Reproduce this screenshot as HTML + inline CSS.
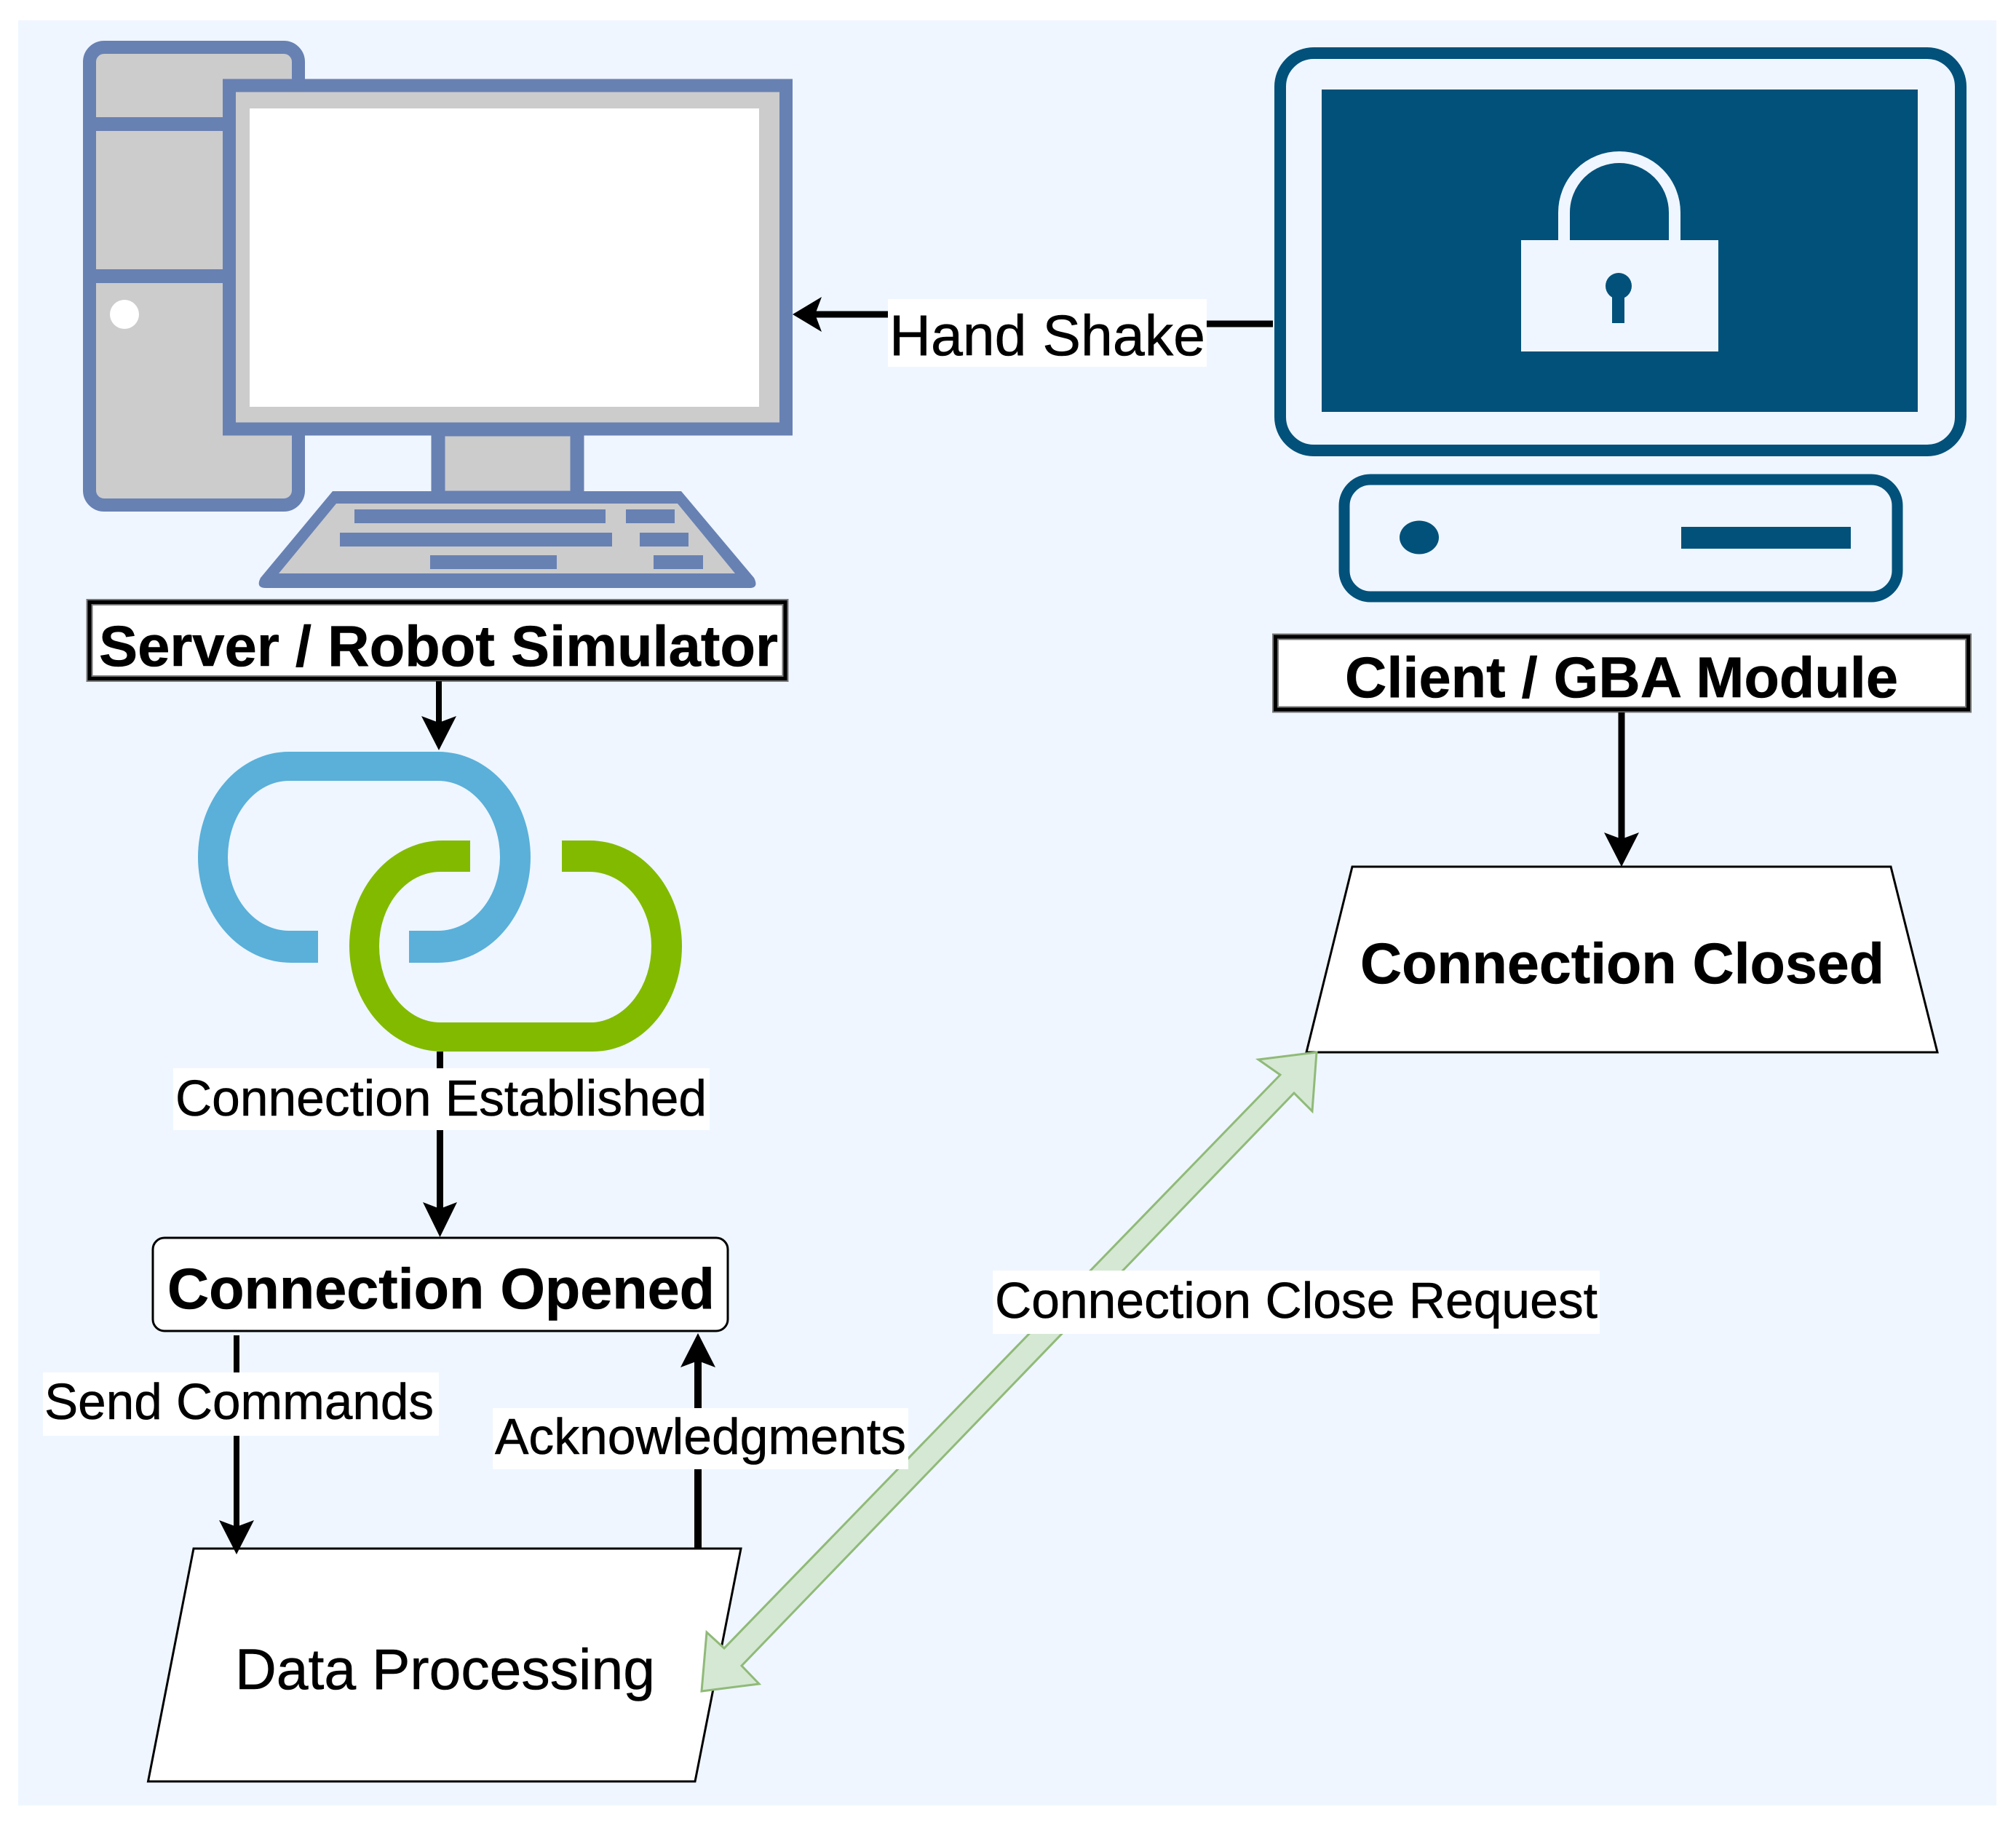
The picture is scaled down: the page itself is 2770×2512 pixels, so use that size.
<!DOCTYPE html>
<html>
<head>
<meta charset="utf-8">
<style>
html,body{margin:0;padding:0;background:#fff}
svg{display:block}
text{font-family:"Liberation Sans",sans-serif;fill:#000;stroke:#000;stroke-width:.6px}
.b{font-weight:bold;font-size:79px}
.r{font-size:70px}
.r2{font-size:79px}
</style>
</head>
<body>
<svg width="2770" height="2512" viewBox="0 0 2770 2512" xmlns="http://www.w3.org/2000/svg">
<rect width="2770" height="2512" fill="#fff"/>
<rect x="25" y="28" width="2718" height="2453" fill="#EFF6FF"/>

<!-- Server computer -->
<g fill="#CCCCCC" stroke="#6881B3">
<rect x="123" y="65" width="287" height="629" rx="20" stroke-width="18"/>
<rect x="602" y="590" width="191" height="94" stroke-width="19"/>
</g>
<path d="M457,675 L936,675 L1036,794 Q1043,808 1030,808 L365,808 Q351,808 358,794 Z" fill="#6881B3"/>
<polygon points="462,692 931,692 1010,788 383,788" fill="#CCCCCC"/>
<g fill="#6881B3">
<rect x="123" y="161" width="190" height="19"/>
<rect x="123" y="370" width="190" height="19"/>
<rect x="487" y="700" width="345" height="19"/>
<rect x="860" y="700" width="67" height="19"/>
<rect x="467" y="732" width="374" height="19"/>
<rect x="879" y="732" width="67" height="19"/>
<rect x="591" y="763" width="174" height="19"/>
<rect x="898" y="763" width="68" height="19"/>
</g>
<rect x="315" y="117.500" width="765" height="472" fill="#CCCCCC" stroke="#6881B3" stroke-width="18"/>
<rect x="343" y="149" width="700" height="410" fill="#fff"/>
<circle cx="171" cy="432" r="20" fill="#fff"/>

<!-- Client computer -->
<rect x="1759" y="73" width="935" height="546" rx="46" fill="none" stroke="#02517A" stroke-width="16"/>
<rect x="1816" y="123" width="819" height="443" fill="#02517A"/>
<path d="M2149,332 L2149,292 A76,76 0 0 1 2301,292 L2301,332" fill="none" stroke="#EFF6FF" stroke-width="16"/>
<rect x="2090" y="330" width="271" height="153" fill="#EFF6FF"/>
<circle cx="2224" cy="393" r="18" fill="#02517A"/>
<rect x="2215" y="393" width="17" height="51" fill="#02517A"/>
<rect x="1847" y="659" width="760" height="161" rx="36" fill="none" stroke="#02517A" stroke-width="15"/>
<ellipse cx="1950" cy="738.500" rx="27" ry="23" fill="#02517A"/>
<rect x="2310" y="724" width="233" height="30" fill="#02517A"/>

<!-- Title boxes -->
<rect x="123" y="827.500" width="956" height="105" fill="#fff" stroke="#777" stroke-width="9"/>
<rect x="123" y="827.500" width="956" height="105" fill="none" stroke="#000" stroke-width="5"/>
<text class="b" x="136" y="915" textLength="933" lengthAdjust="spacingAndGlyphs">Server / Robot Simulator</text>
<rect x="1752.500" y="875" width="952" height="100" fill="#fff" stroke="#777" stroke-width="9"/>
<rect x="1752.500" y="875" width="952" height="100" fill="none" stroke="#000" stroke-width="5"/>
<text class="b" x="1848" y="958" textLength="760" lengthAdjust="spacingAndGlyphs">Client / GBA Module</text>

<!-- Link icon -->
<path fill="#5AB0D9" d="M437,1323 L400,1323 A128,145 0 0 1 272,1178 A125,145 0 0 1 397,1033 L602,1033 A127,145 0 0 1 729,1178 A127,145 0 0 1 602,1323 L562,1323 L562,1279 L602,1279 A85,101 0 0 0 687,1178 A85,105 0 0 0 602,1073 L397,1073 A84,105 0 0 0 313,1178 A84,101 0 0 0 397,1279 L437,1279 Z"/>
<path fill="#82BA00" d="M646,1155 L608,1155 A128,145 0 0 0 480,1300 A128,145 0 0 0 608,1445 L815,1445 A122,145 0 0 0 937,1300 A127,145 0 0 0 810,1155 L772,1155 L772,1198 L810,1198 A85,102 0 0 1 895,1300 A85,105 0 0 1 815,1405 L605,1405 A84,105 0 0 1 521,1300 A84,102 0 0 1 605,1198 L646,1198 Z"/>

<!-- Shapes -->
<rect x="210" y="1701" width="790" height="128" rx="16" fill="#fff" stroke="#000" stroke-width="3"/>
<text class="b" x="230" y="1798" textLength="752" lengthAdjust="spacingAndGlyphs">Connection Opened</text>
<polygon points="266,2128 1018,2128 955,2448 203.500,2448" fill="#fff" stroke="#000" stroke-width="3"/>
<text class="r2" x="323" y="2321" textLength="577" lengthAdjust="spacingAndGlyphs">Data Processing</text>
<polygon points="1858,1191 2598,1191 2662,1446 1795,1446" fill="#fff" stroke="#000" stroke-width="3"/>
<text class="b" x="1869" y="1351" textLength="720" lengthAdjust="spacingAndGlyphs">Connection Closed</text>

<!-- Connectors -->
<g stroke="#000" stroke-width="9" fill="none">
<line x1="1658" y1="445" x2="1749" y2="445"/>
<line x1="1115" y1="432" x2="1222" y2="432"/>
<line x1="603" y1="936" x2="603" y2="1000" stroke-width="8"/>
<line x1="604.500" y1="1445" x2="604.500" y2="1670"/>
<line x1="325" y1="1835" x2="325" y2="2110" stroke-width="8"/>
<line x1="959" y1="2128" x2="959" y2="1860" stroke-width="10"/>
<line x1="2228" y1="979" x2="2228" y2="1160"/>
</g>
<g fill="#000">
<polygon points="1089,432 1129,408 1120,432 1129,456"/>
<polygon points="603,1031 579,984 603,993 627,984"/>
<polygon points="604.500,1700 581,1652 604.500,1661 628,1652"/>
<polygon points="325,2136 301,2089 325,2098 349,2089"/>
<polygon points="959,1832 935,1879 959,1870 983,1879"/>
<polygon points="2228,1191 2204,1144 2228,1153 2252,1144"/>
</g>

<!-- Double green arrow -->
<polygon points="1809,1446 1729,1456 1759,1477 995,2265 971,2243 964,2324 1043,2314 1019,2289 1778,1502 1803,1527" fill="#D5E8D4" stroke="#90BA78" stroke-width="3" stroke-linejoin="miter"/>

<!-- Labels -->
<rect x="1220" y="411" width="438" height="93" fill="#fff"/>
<text class="r2" x="1222" y="488" textLength="434" lengthAdjust="spacingAndGlyphs">Hand Shake</text>
<rect x="238" y="1468" width="737" height="85" fill="#fff"/>
<text class="r" x="241" y="1533" textLength="730" lengthAdjust="spacingAndGlyphs">Connection Established</text>
<rect x="59" y="1886" width="544" height="87" fill="#fff"/>
<text class="r" x="61" y="1950" textLength="535" lengthAdjust="spacingAndGlyphs">Send Commands</text>
<rect x="677" y="1935" width="571" height="84" fill="#fff"/>
<text class="r" x="680" y="1998" textLength="565" lengthAdjust="spacingAndGlyphs">Acknowledgments</text>
<rect x="1364" y="1746" width="834" height="87" fill="#fff"/>
<text class="r" x="1367" y="1811" textLength="828" lengthAdjust="spacingAndGlyphs">Connection Close Request</text>
</svg>
</body>
</html>
